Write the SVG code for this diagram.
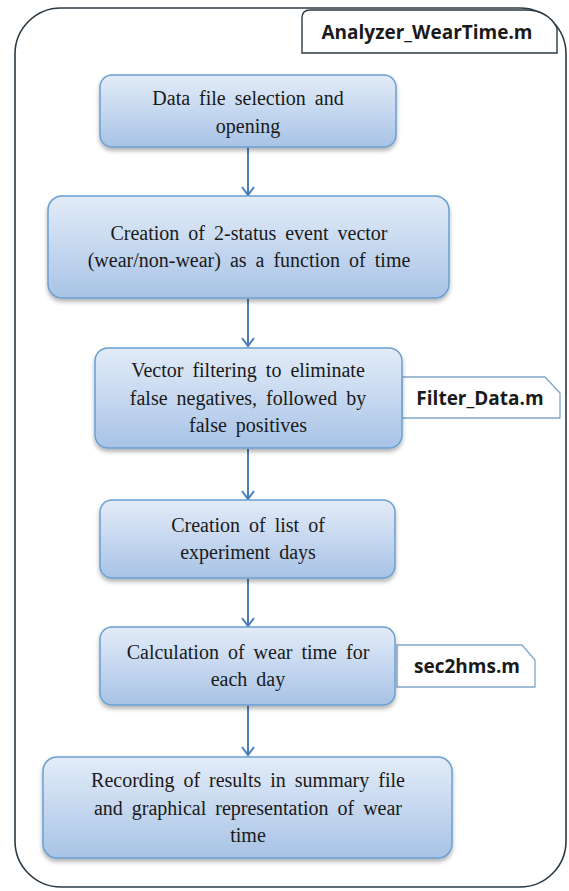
<svg xmlns="http://www.w3.org/2000/svg" width="569" height="891" viewBox="0 0 569 891">
<defs>
<linearGradient id="g" x1="0" y1="0" x2="0" y2="1">
<stop offset="0" stop-color="#e3ecf8"/>
<stop offset="1" stop-color="#a8c3e6"/>
</linearGradient>
<filter id="sh" x="-10%" y="-10%" width="120%" height="130%">
<feDropShadow dx="0" dy="3" stdDeviation="2" flood-color="#000" flood-opacity="0.3"/>
</filter>
<marker id="ah" markerWidth="14" markerHeight="14" refX="12" refY="7" orient="auto" markerUnits="userSpaceOnUse" viewBox="0 0 14 14">
<path d="M4,1 L12,7 L4,13" fill="none" stroke="#4a7ebb" stroke-width="2"/>
</marker>
</defs>
<style>
.box{fill:url(#g);stroke:#6a9fd2;stroke-width:1.5;filter:url(#sh)}
.t{font-family:"Liberation Serif","Times New Roman",serif;font-size:20px;fill:#1a1a1a;text-anchor:middle;word-spacing:4px}
.tab{fill:#fff;stroke:#7fa6c8;stroke-width:1.3}
.lb{font-family:"Open Sans","Liberation Sans",sans-serif;font-weight:bold;font-size:19px;fill:#1a1a1a;text-anchor:middle}
.c{stroke:#4a7ebb;stroke-width:2;fill:none;marker-end:url(#ah)}
</style>
<rect width="569" height="891" fill="#fff"/>
<g id="frame">
<rect x="15" y="8" width="551" height="879" rx="46" ry="46" fill="#fff" stroke="#2b3a44" stroke-width="1.6"/>
<path d="M302,53 V18 Q302,10 310,10 H525 Q548,10 557,28 V53 Z" fill="#fff" stroke="#2b3a44" stroke-width="1.4"/>
<text class="lb" x="427" y="39" font-size="20px">Analyzer_WearTime.m</text>
</g>
<g id="connectors">
<line class="c" x1="248" y1="148" x2="248" y2="195"/>
<line class="c" x1="248" y1="299" x2="248" y2="346"/>
<line class="c" x1="248" y1="449" x2="248" y2="499"/>
<line class="c" x1="248" y1="579" x2="248" y2="626"/>
<line class="c" x1="248" y1="706" x2="248" y2="755"/>
</g>
<g id="tab-filter">
<path class="tab" d="M402,377 H545 L560,393 V418 H402 Z"/>
<text class="lb" x="480" y="405">Filter_Data.m</text>
</g>
<g id="tab-sec2hms">
<path class="tab" d="M397,645 H522 L535,660 V687 H397 Z"/>
<text class="lb" x="467" y="673">sec2hms.m</text>
</g>
<g id="n1">
<rect class="box" x="100" y="75" width="296" height="72" rx="12"/>
<text class="t" x="248" y="105">Data file selection and</text>
<text class="t" x="248" y="133">opening</text>
</g>
<g id="n2">
<rect class="box" x="48" y="196" width="401" height="102" rx="14"/>
<text class="t" x="249" y="240">Creation of 2-status event vector</text>
<text class="t" x="249" y="267">(wear/non-wear) as a function of time</text>
</g>
<g id="n3">
<rect class="box" x="95" y="348" width="307" height="100" rx="13"/>
<text class="t" x="248" y="377">Vector filtering to eliminate</text>
<text class="t" x="248" y="405">false negatives, followed by</text>
<text class="t" x="248" y="432">false positives</text>
</g>
<g id="n4">
<rect class="box" x="100" y="500" width="295" height="78" rx="12"/>
<text class="t" x="248" y="532">Creation of list of</text>
<text class="t" x="248" y="559">experiment days</text>
</g>
<g id="n5">
<rect class="box" x="100" y="627" width="295" height="78" rx="12"/>
<text class="t" x="248" y="659">Calculation of wear time for</text>
<text class="t" x="248" y="686">each day</text>
</g>
<g id="n6">
<rect class="box" x="43" y="757" width="409" height="101" rx="14"/>
<text class="t" x="248" y="787">Recording of results in summary file</text>
<text class="t" x="248" y="815">and graphical representation of wear</text>
<text class="t" x="248" y="842">time</text>
</g>
</svg>
